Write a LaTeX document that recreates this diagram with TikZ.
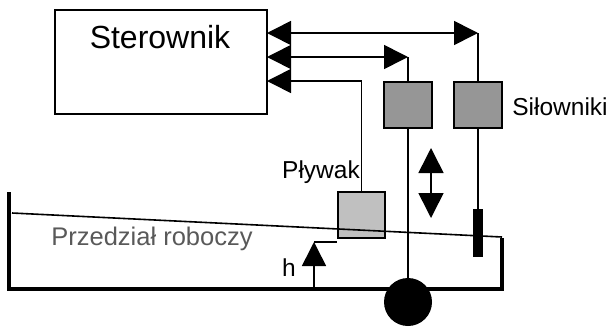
\documentclass[tikz,border=0pt]{standalone}
\usepackage{fontspec}
\setmainfont{Liberation Sans}
\usetikzlibrary{arrows.meta}
\definecolor{actgray}{HTML}{969696}
\definecolor{flgray}{HTML}{C0C0C0}
\definecolor{txtgray}{HTML}{595959}
\begin{document}
\begin{tikzpicture}[x=1pt,y=-1pt,
  conn/.style={line width=1.6pt},
  bigtip/.style={-{Triangle[length=24pt,width=24pt]}},
  boxst/.style={draw,line width=1.8pt,minimum width=212pt,minimum height=104pt,inner sep=0pt},
  actbox/.style={draw,line width=1.8pt,fill=actgray,minimum width=48pt,minimum height=46pt,inner sep=0pt},
  flbox/.style={draw,line width=1.8pt,fill=flgray,minimum width=47pt,minimum height=46pt,inner sep=0pt},
  lbl/.style={font=\fontsize{24.5}{28}\selectfont,inner sep=0pt,anchor=base},
  tank/.style={line width=4pt,miter limit=10}
]
\useasboundingbox (0,0) rectangle (615,327);
% controller
\node[boxst] (st) at (161,62) {};
\node[font=\fontsize{32}{36}\selectfont,inner sep=0pt,anchor=base] (stl) at (160,48) {Sterownik};
% actuators and float
\node[actbox] (a1) at (408,105) {};
\node[actbox] (a2) at (478,105) {};
\node[flbox] (fl) at (361.5,215) {};
% coordinates for connector corners
\coordinate (c1) at (478,33);
\coordinate (c2) at (408,57);
\coordinate (c3) at (361.5,81);
\coordinate (s1) at (267,33);
\coordinate (s2) at (267,57);
\coordinate (s3) at (267,81);
% connectors with arrow tips at both ends of horizontal parts
\draw[conn,{Triangle[length=24pt,width=24pt]}-{Triangle[length=24pt,width=24pt]}] (s1) -- (c1);
\draw[conn] (c1) -- (a2.north);
\draw[conn,{Triangle[length=24pt,width=24pt]}-{Triangle[length=24pt,width=24pt]}] (s2) -- (c2);
\draw[conn] (c2) -- (a1.north);
\draw[conn,bigtip] (c3) -- (s3);
\draw[conn] (fl.north) -- (c3);
% tank
\draw[tank] (9,192) -- (9,289) -- (502,289) -- (502,238);
% water surface
\draw[line width=1.6pt] (12,213) -- (502,237);
% pump and rods
\node[circle,fill=black,minimum size=48pt,inner sep=0pt] (pump) at (408,302) {};
\draw[conn] (a1.south) -- (pump.center);
\node[fill=black,minimum width=10pt,minimum height=48pt,inner sep=0pt] (bar) at (478,233) {};
\draw[conn] (a2.south) -- (bar.north);
% double arrow
\coordinate (d1) at (431,148);
\coordinate (d2) at (431,218);
\draw[conn,{Triangle[length=25pt,width=25pt]}-{Triangle[length=25pt,width=25pt]}] (d1) -- (d2);
% level arrow h
\coordinate (hb) at (314,289);
\coordinate (ht) at (314,242);
\draw[conn,bigtip] (hb) -- (ht);
\draw[conn] (ht) -- (fl.south west |- ht);
% labels
\node[lbl] (lh) at (289,276) {h};
\node[lbl] (lfl) at (321,178) {Pływak};
\node[lbl] (lact) at (560,115) {Siłowniki};
\node[lbl,text=txtgray,font=\fontsize{25.5}{28}\selectfont] (lpr) at (152,245) {Przedział roboczy};
\end{tikzpicture}
\end{document}
